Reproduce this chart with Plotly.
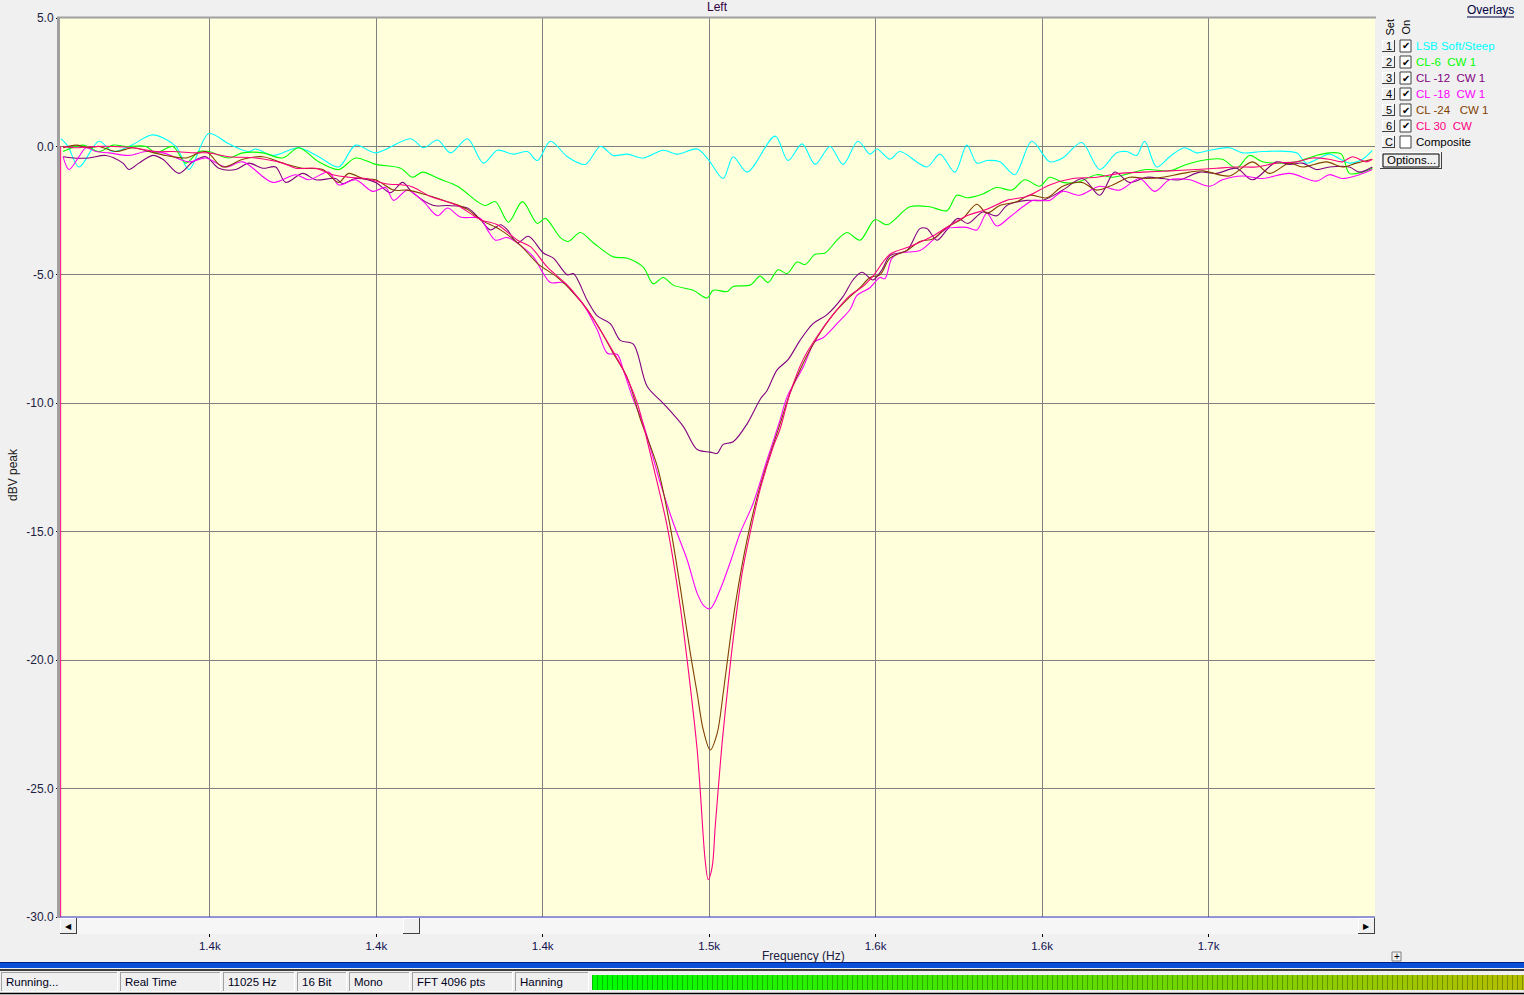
import plotly.graph_objects as go

# ---------------- data (frequency Hz, level dBV) ----------------
SERIES_NAMES = ["LSB Soft/Steep", "CL-6\u00a0 CW 1", "CL -12\u00a0 CW 1", "CL -18\u00a0 CW 1",
                "CL -24\u00a0\u00a0 CW 1", "CL 30\u00a0 CW"]
SERIES_COLORS = ["#00FFFF", "#00FF00", "#800080", "#FF00FF", "#804000", "#FF0080"]

CYAN = [(1305.3, 0.3), (1307.4, 0.0), (1310.7, -0.8), (1316.7, 0.2), (1320.9, -0.2), (1326.5, 0.05),
        (1332.9, 0.45), (1339.8, 0.0), (1343.7, -0.9), (1349.7, 0.5), (1355.7, 0.1), (1361.7, -0.2),
        (1363.8, -0.1), (1368.9, -0.35), (1376.7, -0.05), (1382.7, -0.4), (1388.7, -0.8), (1393.8, 0.05),
        (1399.8, -0.25), (1410.3, 0.3), (1414.2, -0.05), (1418.4, 0.25), (1422.3, -0.25), (1427.4, 0.3),
        (1432.2, -0.65), (1436.4, -0.15), (1441.2, -0.3), (1445.4, -0.2), (1448.4, -0.55), (1452.3, 0.2),
        (1457.4, -0.4), (1462.8, -0.7), (1467.3, 0.0), (1471.2, -0.35), (1475.4, -0.3), (1480.2, -0.45),
        (1486.2, -0.15), (1490.4, -0.3), (1496.4, -0.1), (1499.7, -0.5), (1504.2, -1.25), (1507.2, -0.4),
        (1511.4, -1.0), (1519.8, 0.4), (1523.7, -0.55), (1527.9, 0.1), (1531.8, -0.7), (1536.3, 0.0),
        (1540.2, -0.7), (1544.7, 0.2), (1548.3, -0.3), (1550.4, -0.1), (1554.3, -0.5), (1557.3, -0.2),
        (1565.4, -0.8), (1569.3, -0.3), (1573.8, -1.0), (1577.4, 0.05), (1580.4, -0.65), (1583.4, -0.55),
        (1587.3, -0.6), (1591.8, -1.1), (1596.9, 0.2), (1602.3, -0.6), (1606.2, -0.45), (1611.9, 0.15),
        (1617.3, -0.9), (1622.4, -0.25), (1625.4, -0.2), (1628.4, -0.35), (1630.8, 0.2), (1634.4, -0.8),
        (1638.3, -0.4), (1642.8, -0.05), (1646.4, -0.25), (1650.3, -0.15), (1656.3, -0.05), (1660.2, -0.25),
        (1666.2, -0.2), (1676.4, -0.25), (1679.4, -0.65), (1683.3, -0.45), (1686.3, -0.3), (1692.3, -0.65),
        (1696.2, -0.5), (1699.2, -0.15)]

GREEN = [(1305.9, -0.2), (1311.9, 0.05), (1316.7, -0.2), (1320.9, 0.05), (1324.8, 0.0), (1330.8, 0.0),
         (1333.8, -0.25), (1338.9, 0.0), (1342.8, -0.65), (1346.7, -0.2), (1349.7, -0.2), (1355.7, -0.45),
         (1359.9, -0.25), (1365.9, -0.25), (1371.9, -0.45), (1376.7, -0.05), (1382.7, -0.6), (1388.7, -0.9),
         (1393.8, -0.45), (1399.8, -0.7), (1407.3, -0.85), (1410.9, -1.2), (1413.9, -1.0), (1418.7, -1.25),
         (1424.4, -1.55), (1430.4, -2.15), (1432.8, -2.3), (1435.8, -2.15), (1439.7, -2.95), (1443.9, -2.15),
         (1448.4, -3.0), (1450.8, -2.8), (1455.3, -3.55), (1457.7, -3.7), (1461.3, -3.35), (1465.2, -3.75),
         (1471.2, -4.3), (1475.4, -4.35), (1480.2, -4.7), (1483.2, -5.35), (1486.2, -5.1), (1489.2, -5.4),
         (1495.2, -5.6), (1499.4, -5.9), (1501.2, -5.6), (1505.4, -5.65), (1507.2, -5.45), (1512.3, -5.4),
         (1515.3, -5.05), (1517.7, -5.3), (1520.7, -4.8), (1523.4, -4.95), (1526.4, -4.5), (1528.8, -4.6),
         (1531.8, -4.2), (1534.8, -4.15), (1538.4, -3.65), (1541.4, -3.35), (1545.3, -3.65), (1549.8, -2.85),
         (1553.4, -3.05), (1560.3, -2.35), (1566.3, -2.35), (1571.4, -2.5), (1574.4, -1.9), (1577.4, -2.0),
         (1582.2, -1.85), (1586.4, -1.6), (1590.9, -1.7), (1594.8, -1.3), (1599.3, -1.55), (1602.3, -1.2),
         (1606.2, -1.4), (1610.4, -1.4), (1616.4, -1.1), (1621.2, -1.2), (1626.3, -1.05), (1631.4, -0.9),
         (1638.3, -0.95), (1643.4, -0.7), (1650.3, -0.5), (1654.2, -0.5), (1658.4, -0.85), (1662.3, -0.35),
         (1666.2, -0.6), (1670.4, -0.65), (1676.4, -0.6), (1682.4, -0.35), (1686.3, -0.25), (1689.9, -0.3),
         (1692.3, -1.05), (1696.2, -1.0), (1699.2, -0.85)]

PURPLE = [(1305.9, -0.4), (1308.9, -0.45), (1313.7, -0.45), (1318.8, -0.35), (1323.9, -0.65), (1325.7, -0.9),
          (1328.7, -0.65), (1332.9, -0.35), (1335.9, -0.5), (1340.7, -1.05), (1344.9, -0.6), (1348.8, -0.4),
          (1352.7, -0.85), (1357.8, -0.9), (1361.7, -0.65), (1365.9, -0.85), (1369.8, -0.8), (1372.8, -1.4),
          (1377.9, -1.05), (1381.8, -1.3), (1387.8, -1.25), (1389.9, -1.45), (1393.8, -1.25), (1399.8, -1.4),
          (1404.3, -1.8), (1407.9, -1.4), (1410.9, -1.8), (1417.2, -2.3), (1421.4, -2.3), (1427.4, -2.4),
          (1431.3, -2.85), (1434.3, -3.25), (1437.3, -3.05), (1439.4, -3.25), (1442.4, -3.75), (1445.7, -3.5),
          (1450.2, -4.15), (1453.2, -4.35), (1457.4, -5.0), (1459.2, -4.95), (1463.4, -6.0), (1466.4, -6.6),
          (1470.3, -6.9), (1473.3, -7.55), (1477.2, -7.7), (1481.4, -9.35), (1486.2, -10.0), (1492.2, -10.9),
          (1496.4, -11.8), (1500.3, -11.9), (1502.4, -11.95), (1504.2, -11.6), (1507.2, -11.5), (1511.4, -10.8),
          (1515.3, -9.85), (1517.4, -9.5), (1520.4, -8.7), (1523.7, -8.3), (1527.3, -7.55), (1531.2, -6.9),
          (1535.4, -6.55), (1540.2, -5.85), (1543.2, -5.2), (1545.9, -4.9), (1549.2, -5.2), (1551.9, -4.8),
          (1554.3, -4.25), (1559.4, -4.05), (1563.3, -3.2), (1565.4, -3.2), (1568.4, -3.65), (1571.4, -3.25),
          (1574.7, -2.8), (1577.7, -3.0), (1582.2, -2.55), (1586.4, -2.7), (1589.4, -2.3), (1595.4, -2.1),
          (1600.2, -2.1), (1606.2, -1.7), (1612.2, -1.25), (1617.3, -1.9), (1621.8, -1.0), (1626.3, -1.4),
          (1631.4, -1.2), (1636.2, -1.25), (1641.3, -1.3), (1647.3, -1.0), (1652.4, -1.05), (1658.4, -0.85),
          (1663.2, -1.3), (1670.4, -0.6), (1674.3, -0.7), (1678.2, -0.65), (1682.4, -0.9), (1686.3, -0.8),
          (1692.3, -0.8), (1695.3, -1.0), (1699.2, -0.8)]

MAGENTA = [(1305.9, -0.4), (1307.7, -0.9), (1310.7, -0.4), (1312.8, -0.05), (1315.8, -0.2), (1319.7, -0.25),
           (1325.7, -0.35), (1330.8, -0.2), (1335.9, -0.25), (1343.7, -0.6), (1348.8, -0.45), (1354.8, -0.8),
           (1359.9, -0.6), (1368.9, -1.4), (1375.8, -1.1), (1379.7, -1.3), (1385.7, -1.0), (1388.7, -1.5),
           (1393.8, -1.3), (1398.9, -1.75), (1402.8, -1.6), (1405.2, -2.1), (1409.4, -1.7), (1414.2, -2.15),
           (1418.4, -2.7), (1421.4, -2.4), (1425.3, -2.75), (1431.3, -2.8), (1433.4, -3.25), (1435.8, -3.65),
           (1439.4, -3.55), (1443.3, -3.85), (1447.2, -4.3), (1450.2, -4.95), (1452.3, -5.3), (1456.2, -5.3),
           (1459.2, -5.7), (1462.2, -6.15), (1466.4, -7.15), (1469.4, -8.05), (1472.4, -8.1), (1474.2, -8.7),
           (1477.2, -9.85), (1480.2, -10.8), (1485.3, -13.1), (1489.2, -14.65), (1493.4, -16.1), (1496.4, -17.4),
           (1498.5, -17.9), (1500.3, -18.0), (1503.3, -17.25), (1506.3, -16.2), (1509.3, -15.05), (1513.2, -13.9),
           (1517.4, -12.2), (1521.3, -10.65), (1523.4, -9.75), (1528.2, -8.6), (1531.8, -7.6), (1534.2, -7.45),
           (1538.4, -6.9), (1542.3, -6.35), (1544.4, -5.8), (1548.3, -5.5), (1551.3, -5.1), (1552.8, -5.15),
           (1554.9, -4.35), (1557.3, -4.15), (1563.3, -4.05), (1567.2, -3.65), (1571.4, -3.2), (1574.4, -3.15),
           (1577.4, -3.15), (1580.4, -3.25), (1583.4, -2.6), (1586.4, -3.1), (1590.3, -2.75), (1594.2, -2.35),
           (1597.2, -2.1), (1599.3, -2.1), (1602.3, -2.1), (1606.2, -1.75), (1611.3, -1.9), (1617.3, -1.55),
           (1623.3, -1.7), (1629.3, -1.25), (1633.8, -1.75), (1638.3, -1.3), (1644.3, -1.3), (1650.3, -1.55),
           (1654.2, -1.3), (1660.2, -1.15), (1666.2, -1.25), (1674.3, -1.05), (1682.4, -1.35), (1686.3, -1.1),
           (1690.2, -1.25), (1695.3, -1.1), (1699.2, -0.9)]

BROWN = [(1305.9, -0.05), (1309.8, 0.05), (1313.7, -0.05), (1316.7, 0.0), (1321.8, -0.2), (1326.9, -0.05),
         (1331.7, -0.2), (1336.8, -0.35), (1342.8, -0.45), (1348.8, -0.2), (1353.9, -0.8), (1359.9, -0.5),
         (1365.9, -0.4), (1371.9, -0.65), (1377.9, -0.85), (1383.9, -0.9), (1388.7, -1.4), (1391.7, -1.05),
         (1395.9, -1.25), (1399.8, -1.3), (1405.2, -1.7), (1409.4, -1.7), (1415.4, -1.9), (1421.4, -2.15),
         (1427.4, -2.45), (1431.3, -2.85), (1437.3, -3.25), (1443.3, -3.85), (1448.4, -4.55), (1454.4, -5.1),
         (1459.2, -5.7), (1463.4, -6.35), (1467.3, -7.15), (1471.2, -8.05), (1475.4, -9.0), (1479.3, -10.6),
         (1484.4, -12.45), (1488.3, -14.8), (1491.3, -17.15), (1494.3, -19.7), (1496.4, -21.3), (1498.2, -22.7),
         (1500.3, -23.5), (1502.4, -22.85), (1504.2, -21.3), (1506.3, -19.2), (1508.4, -17.4), (1511.4, -15.3),
         (1514.4, -13.65), (1517.4, -12.35), (1521.3, -10.8), (1524.3, -9.6), (1528.2, -8.45), (1532.4, -7.45),
         (1537.2, -6.55), (1542.3, -5.85), (1545.3, -5.5), (1548.3, -5.1), (1551.3, -5.0), (1554.3, -4.35),
         (1559.4, -4.05), (1563.3, -3.7), (1567.2, -3.6), (1571.4, -3.15), (1576.2, -2.8), (1580.4, -2.25),
         (1583.4, -2.6), (1587.3, -2.3), (1592.4, -2.15), (1596.3, -1.9), (1601.4, -2.0), (1606.2, -1.55),
         (1611.9, -1.4), (1616.4, -1.7), (1621.2, -1.5), (1626.3, -1.2), (1631.4, -1.25), (1636.2, -1.2),
         (1642.2, -1.05), (1648.2, -0.95), (1656.3, -1.15), (1663.2, -0.6), (1668.3, -1.05), (1674.3, -0.65),
         (1678.2, -0.8), (1685.4, -0.6), (1690.2, -0.8), (1694.4, -0.65), (1699.2, -0.5)]

PINK_START = [(1305.2, -30.0), (1305.2, 0.0)]
PINK = [(1305.9, 0.0), (1309.8, -0.05), (1315.8, 0.0), (1320.9, 0.0), (1326.9, -0.05), (1333.8, -0.2),
        (1338.9, -0.2), (1345.8, -0.25), (1349.7, -0.25), (1355.7, -0.4), (1363.8, -0.45), (1371.9, -0.65),
        (1375.8, -0.85), (1381.8, -0.85), (1386.9, -1.1), (1391.7, -1.2), (1396.8, -1.25), (1402.8, -1.45),
        (1410.3, -1.55), (1416.3, -1.95), (1424.4, -2.3), (1431.3, -2.85), (1436.4, -3.05), (1442.4, -3.65),
        (1446.3, -3.9), (1451.4, -4.7), (1457.4, -5.4), (1461.3, -6.0), (1465.2, -6.7), (1470.3, -7.8),
        (1474.2, -8.7), (1478.4, -10.0), (1483.2, -12.45), (1487.4, -14.8), (1491.3, -17.9), (1494.3, -21.0),
        (1496.4, -23.5), (1497.3, -25.05), (1498.8, -27.8), (1499.7, -28.55), (1500.9, -28.05), (1501.8, -26.5),
        (1502.7, -25.05), (1503.9, -23.2), (1505.4, -21.3), (1507.2, -19.2), (1509.9, -16.6), (1512.3, -15.05),
        (1515.3, -13.35), (1519.2, -11.7), (1521.3, -11.0), (1524.3, -9.6), (1528.2, -8.3), (1532.4, -7.4),
        (1537.2, -6.55), (1542.3, -5.8), (1546.2, -5.45), (1549.2, -5.05), (1554.3, -4.2), (1560.3, -3.9),
        (1566.3, -3.55), (1571.4, -3.15), (1577.4, -2.7), (1583.4, -2.45), (1589.4, -2.1), (1595.4, -1.95),
        (1602.3, -1.5), (1609.2, -1.25), (1616.4, -1.2), (1623.3, -1.05), (1630.2, -1.0), (1638.3, -0.95),
        (1646.4, -0.9), (1652.4, -0.85), (1658.4, -0.8), (1664.4, -0.8), (1670.4, -0.65), (1676.4, -0.6),
        (1681.2, -0.45), (1686.3, -0.5), (1690.2, -0.6), (1693.2, -0.4), (1697.4, -0.6), (1699.2, -0.5)]

X_TICK_HZ = [1350, 1400, 1450, 1500, 1550, 1600, 1650]
X_TICK_TEXT = ["1.4k", "1.4k", "1.4k", "1.5k", "1.6k", "1.6k", "1.7k"]
Y_TICKS = [5, 0, -5, -10, -15, -20, -25, -30]
Y_TICK_TEXT = ["5.0", "0.0", "-5.0", "-10.0", "-15.0", "-20.0", "-25.0", "-30.0"]
STATUS_TEXT = ["Running...", "Real Time", "11025 Hz", "16 Bit", "Mono", "FFT 4096 pts", "Hanning"]

# ---------------- layout geometry ----------------
W, H = 1524, 995
L, R, T, B = 60, 149, 18, 58
PW = W - L - R
PH = H - T - B
FONT = "Liberation Sans, Arial, sans-serif"


def px(x):
    return (x - L) / PW


def py(y):
    return (H - B - y) / PH


fig = go.Figure()
series = [CYAN, GREEN, PURPLE, MAGENTA, BROWN, PINK]
for name, color, pts in zip(SERIES_NAMES, SERIES_COLORS, series):
    fig.add_trace(go.Scatter(x=[p[0] for p in pts], y=[p[1] for p in pts], mode="lines", name=name,
                             line=dict(color=color, width=1.1, shape="spline", smoothing=0.9),
                             hoverinfo="skip", showlegend=False))
fig.add_trace(go.Scatter(x=[p[0] for p in PINK_START], y=[p[1] for p in PINK_START], mode="lines",
                         line=dict(color=SERIES_COLORS[5], width=1), hoverinfo="skip", showlegend=False))

shapes = []
annotations = []


def rect(x0, y0, x1, y1, fill, line=None, lw=1, layer="above"):
    shapes.append(dict(type="rect", xref="paper", yref="paper", x0=px(x0), x1=px(x1), y0=py(y1), y1=py(y0),
                       fillcolor=fill, line=dict(color=line or fill, width=lw if line else 0), layer=layer))


def hline(x0, x1, y, color, lw=1):
    shapes.append(dict(type="line", xref="paper", yref="paper", x0=px(x0), x1=px(x1), y0=py(y), y1=py(y),
                       line=dict(color=color, width=lw), layer="above"))


def vline(x, y0, y1, color, lw=1):
    shapes.append(dict(type="line", xref="paper", yref="paper", x0=px(x), x1=px(x), y0=py(y0), y1=py(y1),
                       line=dict(color=color, width=lw), layer="above"))


def text(x, y, s, size=11, color="#000000", xanchor="left", angle=0):
    annotations.append(dict(xref="paper", yref="paper", x=px(x), y=py(y), text=s, showarrow=False,
                            xanchor=xanchor, yanchor="middle", textangle=angle,
                            font=dict(family=FONT, size=size, color=color)))


def button(x0, y0, x1, y1):
    rect(x0, y0, x1, y1, "#F0F0F0")
    hline(x0, x1, y0 + 0.5, "#FFFFFF")
    vline(x0 + 0.5, y0, y1, "#FFFFFF")
    hline(x0, x1, y1 - 0.5, "#404040")
    vline(x1 - 0.5, y0, y1, "#404040")


# plot borders
vline(58.5, 17, 918, "#A0A0A0", 3)
hline(57, 1376, 17.5, "#A0A0A0", 2)
hline(60, 1375, 917, "#3030C0", 1)

# scrollbar
rect(60, 918, 1375, 934, "#F6F6F6")
button(60, 918, 77, 934)
button(403, 918, 420, 934)
button(1358, 918, 1375, 934)
text(68.5, 926, "\u25c0", size=8, xanchor="center")
text(1366.5, 926, "\u25b6", size=8, xanchor="center")

# titles
text(717, 7, "Left", size=12, color="#300040", xanchor="center")
text(13, 475, "dBV peak", size=12, color="#202020", xanchor="center", angle=-90)
text(803, 956, "Frequency (Hz)", size=12, color="#202040", xanchor="center")
rect(1392, 952, 1401, 961, "#F0F0F0", "#808080", 1)
text(1396.5, 956, "+", size=10, xanchor="center")

# overlays panel
text(1490, 10, "Overlays", size=12, color="#000040", xanchor="center")
hline(1467, 1514, 17, "#000040", 1)
text(1389.5, 27, "Set", size=11, xanchor="center", angle=-90)
text(1405.5, 27, "On", size=11, xanchor="center", angle=-90)
set_labels = ["1", "2", "3", "4", "5", "6", "C"]
row_names = SERIES_NAMES + ["Composite"]
row_colors = SERIES_COLORS + ["#000000"]
for i, (lab, nm, col) in enumerate(zip(set_labels, row_names, row_colors)):
    yc = 46 + 16 * i
    button(1382, yc - 6, 1395, yc + 6)
    text(1388.5, yc, lab, size=11, xanchor="center")
    rect(1400, yc - 6, 1411, yc + 6, "#FFFFFF", "#404040", 1)
    if lab != "C":
        text(1405.5, yc, "\u2714", size=10, xanchor="center")
    text(1414, yc, nm, size=11.5, color=col)
button(1380, 152, 1442, 169)
rect(1383, 154, 1439, 167, "rgba(0,0,0,0)", "#000000", 1)
text(1411, 160.5, "Options...", size=11.5, xanchor="center")

# status bar
rect(0, 962, W, 968, "#0A4FD8")
hline(0, W, 962.5, "#00207F", 1)
hline(0, W, 970, "#000000", 1.5)
hline(0, W, 993.5, "#000000", 1.5)
seps = [0, 119, 222, 296, 348, 411, 514, 590]
for i, s in enumerate(STATUS_TEXT):
    x0, x1 = seps[i] + 1, seps[i + 1] - 1
    hline(x0, x1, 972.5, "#A0A0A0")
    vline(x0 + 0.5, 972, 992, "#A0A0A0")
    hline(x0, x1, 991.5, "#FFFFFF")
    vline(x1 - 0.5, 972, 992, "#FFFFFF")
    text(x0 + 3, 982, s, size=11.5, color="#000020")

# level meter (green -> olive)
mx0, mx1, seg = 592, W, 5
n = (mx1 - mx0) // seg + 1
for k in range(n):
    t = k / max(n - 1, 1)
    r = int(0 + 180 * t)
    g = int(255 - 65 * t)
    x0 = mx0 + k * seg
    rect(x0, 975, min(x0 + seg, mx1), 990, f"rgb({r},{g},0)")
    vline(x0 + 0.5, 975, 990, f"rgb({int(r*0.7)},{int(g*0.75)},0)", 1)

fig.update_layout(
    width=W, height=H, autosize=False,
    margin=dict(l=L, r=R, t=T, b=B, pad=0, autoexpand=False),
    paper_bgcolor="#F0F0F0", plot_bgcolor="#FFFFDC",
    showlegend=False, font=dict(family=FONT, size=11, color="#000000"),
    shapes=shapes, annotations=annotations,
)
fig.update_xaxes(range=[1305, 1700], anchor="free", position=0, tickmode="array",
                 tickvals=X_TICK_HZ, ticktext=X_TICK_TEXT, ticks="inside", ticklen=3,
                 tickcolor="#000000", showgrid=True, gridcolor="#808080", gridwidth=1,
                 zeroline=False, showline=False, tickfont=dict(family=FONT, size=11.5, color="#101050"))
fig.update_yaxes(range=[-30, 5], domain=[20 / PH, 1], tickmode="array", tickvals=Y_TICKS,
                 ticktext=Y_TICK_TEXT, ticks="outside", ticklen=3, tickcolor="#000000",
                 showgrid=True, gridcolor="#808080", gridwidth=1, zeroline=False, showline=False,
                 tickfont=dict(family=FONT, size=12, color="#202040"))

fig.write_html("out.html", config={"displayModeBar": False},
               post_script="document.body.style.margin='0';document.body.style.overflow='hidden';")
